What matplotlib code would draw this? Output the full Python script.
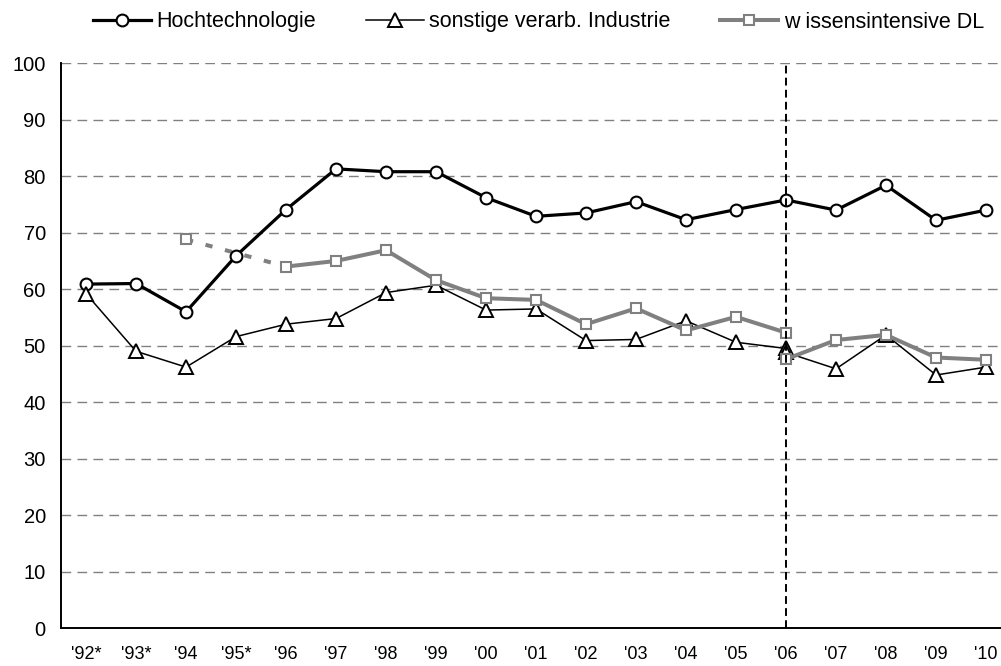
import numpy as np
import matplotlib.pyplot as plt

plt.rcParams['font.family'] = ['Liberation Sans', 'DejaVu Sans']

# x categories
jahre = ["'92*", "'93*", "'94", "'95*", "'96", "'97", "'98", "'99", "'00", "'01",
         "'02", "'03", "'04", "'05", "'06", "'07", "'08", "'09", "'10"]

# Hochtechnologie
hoch = [60.9, 61.0, 56.0, 65.9, 74.1, 81.3, 80.8, 80.8, 76.2, 72.9,
        73.5, 75.5, 72.3, 74.1, 75.8, 74.0, 78.4, 72.2, 74.0]

# sonstige verarb. Industrie, old series up to '06 and new one from '06
sonst_alt = [59.2, 49.0, 46.2, 51.6, 53.8, 54.8, 59.4, 60.7, 56.3, 56.5,
             50.9, 51.1, 54.4, 50.6, 49.5]
sonst_neu = [48.8, 45.9, 51.9, 44.8, 46.2]

# wissensintensive DL ('92*, '93*, '95* missing), old series up to '06 and new one from '06
wdl_alt = [np.nan, np.nan, 68.8, np.nan, 64.0, 65.0, 66.9, 61.6, 58.4, 58.1,
           53.8, 56.6, 52.7, 55.1, 52.3]
wdl_neu = [47.6, 51.0, 51.9, 47.9, 47.5]

bruch = "'06"

grau = '#808080'

fig = plt.figure(figsize=(10.01, 6.66), dpi=100)
ax = fig.add_axes([0.061, 0.057, 0.949, 0.848])

x = np.arange(len(jahre))
i_bruch = jahre.index(bruch)
x_alt = x[:i_bruch + 1]
x_neu = x[i_bruch:]

wdl_alt = np.array(wdl_alt)
ok = ~np.isnan(wdl_alt)

# dashed bridge across the gap in wissensintensive DL
ax.plot(x_alt[ok][:2], wdl_alt[ok][:2], color=grau, lw=2.9, dashes=(1.8, 3.2), zorder=2)
ax.plot(x_alt[ok][:1], wdl_alt[ok][:1], ls='none', marker='s', ms=7.5,
        mfc='white', mec=grau, mew=1.5, zorder=5)

# Hochtechnologie
ax.plot(x, hoch, color='black', lw=2.3, marker='o', ms=8.5, mfc='white',
        mec='black', mew=1.5, zorder=3, label='Hochtechnologie')

# sonstige verarb. Industrie
ax.plot(x_alt, sonst_alt, color='black', lw=1.1, marker='^', ms=9.5, mfc='white',
        mec='black', mew=1.4, zorder=4, label='sonstige verarb. Industrie')
ax.plot(x_neu, sonst_neu, color='black', lw=1.1, marker='^', ms=9.5, mfc='white',
        mec='black', mew=1.4, zorder=4)

# wissensintensive DL
ax.plot(x_alt[ok][1:], wdl_alt[ok][1:], color=grau, lw=2.9, marker='s', ms=7.5,
        mfc='white', mec=grau, mew=1.5, zorder=5, label='w issensintensive DL')
ax.plot(x_neu, wdl_neu, color=grau, lw=2.9, marker='s', ms=7.5,
        mfc='white', mec=grau, mew=1.5, zorder=5)

# break line
ax.axvline(i_bruch, color='black', lw=1.4, dashes=(4, 2.2), zorder=6)

ax.set_xlim(-0.5, len(jahre) - 0.5)
ax.set_ylim(0, 100)
ax.set_yticks(np.arange(0, 101, 10))
ax.set_xticks(x)
ax.set_xticklabels(jahre)
ax.tick_params(axis='both', length=0)
ax.tick_params(axis='y', pad=11, labelsize=14.5)
ax.tick_params(axis='x', pad=13, labelsize=13)

ax.yaxis.grid(True, color=grau, lw=1, dashes=(7, 4.5))
ax.set_axisbelow(True)
for s in ['top', 'right']:
    ax.spines[s].set_visible(False)
for s in ['left', 'bottom']:
    ax.spines[s].set_linewidth(1.4)
    ax.spines[s].set_color('black')

fig.legend(loc='center', bbox_to_anchor=(0.538, 1 - 22 / 666), ncol=3, frameon=False,
           fontsize=15.5, handlelength=2.7, handletextpad=0.25, columnspacing=2.3,
           borderpad=0, borderaxespad=0)

fig.savefig('out.png', dpi=100)
